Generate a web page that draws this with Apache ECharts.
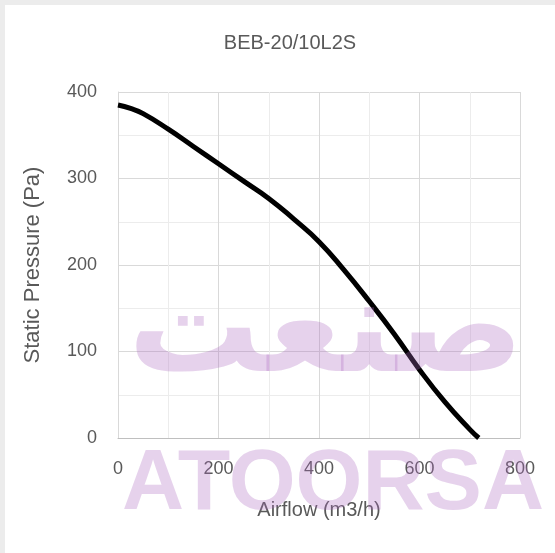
<!DOCTYPE html>
<html>
<head>
<meta charset="utf-8">
<script src="https://cdn.jsdelivr.net/npm/echarts@6/dist/echarts.min.js"></script>
<style>
  html, body { margin: 0; padding: 0; background: #ececec; }
  #chart { position: absolute; left: 5px; top: 5px; width: 550px; height: 548px; background: #fff; }
</style>
</head>
<body>
<div id="chart"></div>
<script>
// fan curve
const airflow = [0, 25, 50, 100, 150, 200, 250, 300, 350, 400, 450, 500, 550, 600, 650, 700, 718];
const pressure = [385, 381, 375, 357, 337, 317, 297, 277, 253, 227, 194, 158, 120, 79, 42, 10, 0];
const xTicks = [0, 200, 400, 600, 800];
const yTicks = [0, 100, 200, 300, 400];

const font = '"Liberation Sans", sans-serif';
const txt = '#595959';
const mark = 'rgba(172,105,192,0.3)';

const chart = echarts.init(document.getElementById('chart'));
chart.setOption({
  animation: false,
  title: {
    text: 'BEB-20/10L2S',
    left: 280, top: 23, textAlign: 'center',
    textStyle: { fontFamily: font, fontSize: 20, fontWeight: 'normal', color: txt }
  },
  grid: { left: 113, right: 35, top: 87, bottom: 115 },
  xAxis: {
    type: 'value', min: xTicks[0], max: xTicks[xTicks.length - 1], interval: 200,
    name: 'Airflow (m3/h)', nameLocation: 'middle', nameGap: 62,
    nameTextStyle: { fontFamily: font, fontSize: 20, color: txt },
    axisLine: { show: true, lineStyle: { color: '#bfbfbf', width: 1 } },
    axisTick: { show: false },
    axisLabel: { margin: 22, fontFamily: font, fontSize: 18, color: txt },
    splitLine: { show: true, lineStyle: { color: '#d9d9d9' } },
    minorTick: { show: false, splitNumber: 2 },
    minorSplitLine: { show: true, lineStyle: { color: '#ececec' } }
  },
  yAxis: {
    type: 'value', min: yTicks[0], max: yTicks[yTicks.length - 1], interval: 100,
    name: 'Static Pressure (Pa)', nameLocation: 'middle', nameGap: 74,
    nameTextStyle: { fontFamily: font, fontSize: 22, color: txt },
    axisLine: { show: true, lineStyle: { color: '#d9d9d9', width: 1 } },
    axisTick: { show: false },
    axisLabel: { margin: 21, fontFamily: font, fontSize: 18, color: txt },
    splitLine: { show: true, lineStyle: { color: '#d9d9d9' } },
    minorTick: { show: false, splitNumber: 2 },
    minorSplitLine: { show: true, lineStyle: { color: '#ececec' } }
  },
  series: [{
    type: 'line',
    data: airflow.map((x, i) => [x, pressure[i]]),
    smooth: 0.5,
    showSymbol: false,
    lineStyle: { color: '#000', width: 5 }
  }],
  graphic: [
    {
      type: 'text', left: 123, top: 266, z: 100,
      style: { text: 'آتور صنعت', font: 'bold 132px "DejaVu Sans"', fill: mark }
    },
    {
      type: 'text', left: 117, top: 437, z: 100,
      style: { text: 'ATOORSA', font: 'bold 86px "Liberation Sans"', fill: mark }
    }
  ]
});
</script>
</body>
</html>
